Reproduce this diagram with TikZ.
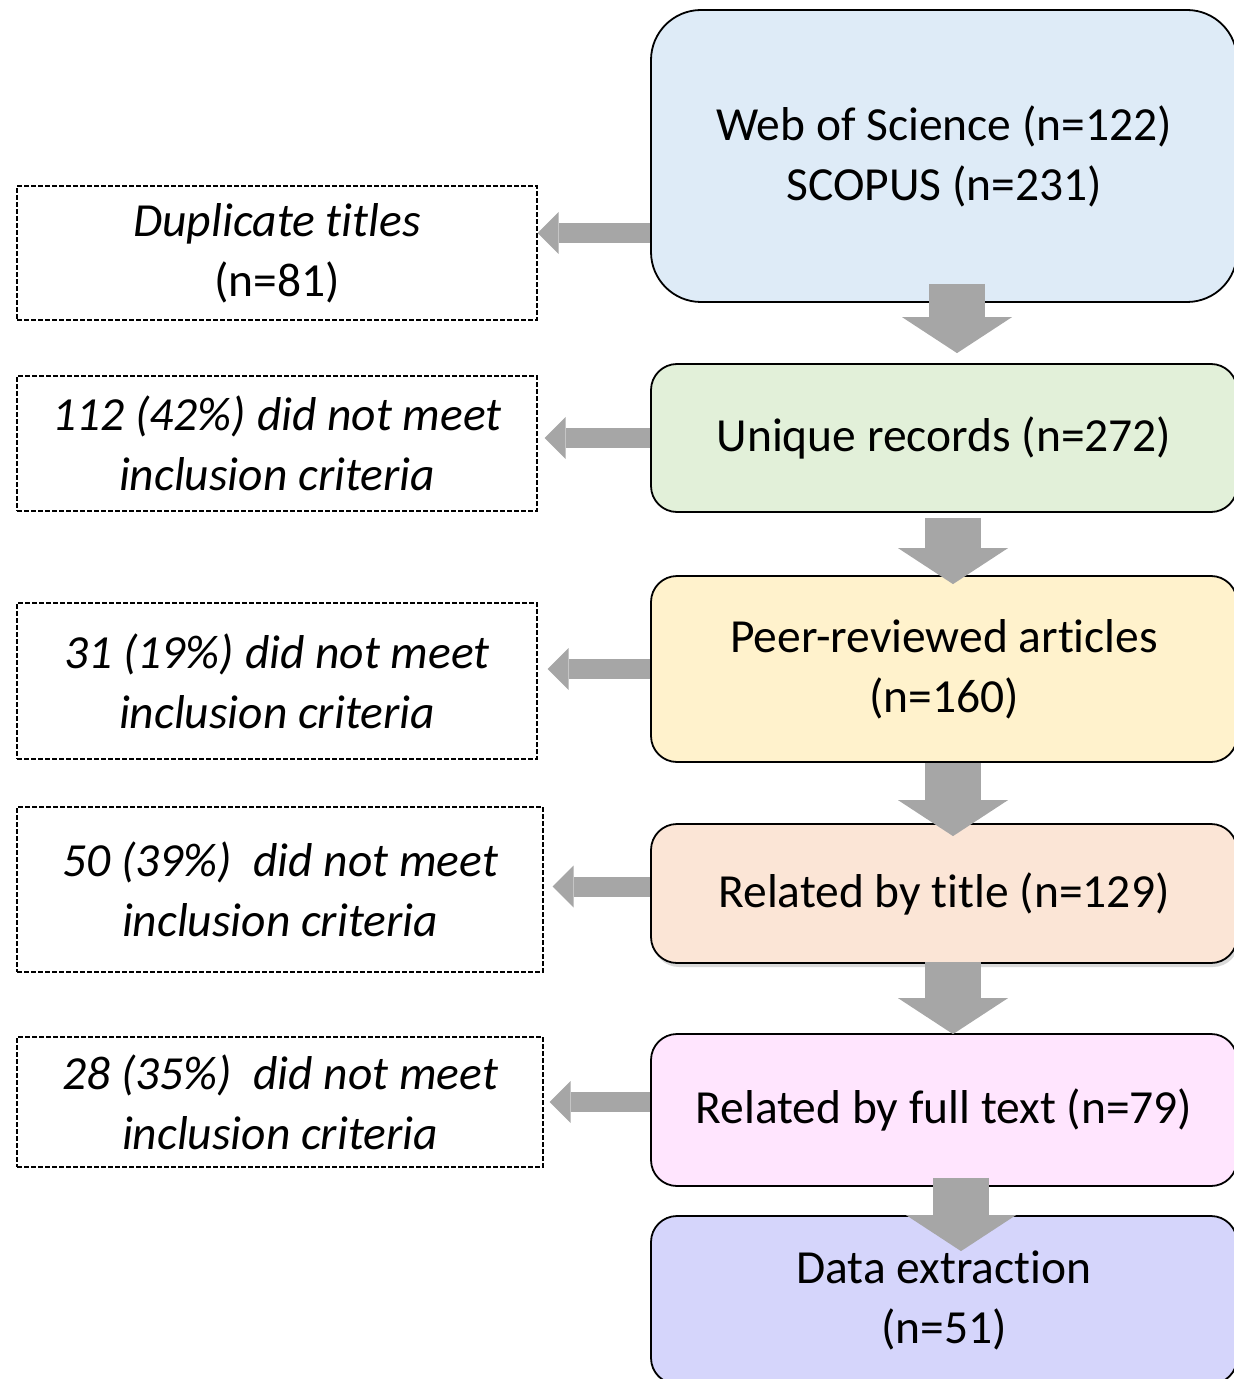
\documentclass[tikz,border=0pt]{standalone}
\usepackage{fontspec}
\setmainfont{Carlito}[Ligatures=CommonOff]
\usetikzlibrary{arrows.meta,calc,shadows}
\definecolor{cblue}{HTML}{DEEBF7}
\definecolor{cgreen}{HTML}{E2F0D9}
\definecolor{cyellow}{HTML}{FFF2CC}
\definecolor{cpeach}{HTML}{FBE5D6}
\definecolor{cpink}{HTML}{FFE5FE}
\definecolor{clav}{HTML}{D5D5FB}
\definecolor{arrowgray}{HTML}{A6A6A6}
\begin{document}
\begin{tikzpicture}[x=0.5pt,y=-0.5pt,
  every node/.style={font=\fontsize{23.75}{30}\selectfont, align=center, inner sep=0pt},
  mainbox/.style={draw=black, line width=0.9pt, rounded corners=13pt, minimum width=293pt},
  exclbox/.style={draw=black, line width=0.7pt, dash pattern=on 2.4pt off 1.1pt,
    font=\fontsize{23.75}{30}\selectfont\itshape},
  downarrow/.style={draw=arrowgray, line width=28pt,
    -{Triangle[length=18pt,width=55pt,line width=0pt]}},
  leftarrow/.style={draw=arrowgray, line width=10pt,
    -{Triangle[length=10.5pt,width=21pt,line width=0pt]}}
]
\useasboundingbox (0,0) rectangle (1234,1379);
\clip (0,0) rectangle (1234,1379);

% main column
\node[mainbox, fill=cblue, rounded corners=25pt, minimum height=146pt] (b1) at (944,156)
  {Web of Science (n=122)\\SCOPUS (n=231)};
\node[mainbox, fill=cgreen, minimum height=74pt] (b2) at (944,438)
  {Unique records (n=272)};
\node[mainbox, fill=cyellow, minimum height=93pt] (b3) at (944,669)
  {Peer-reviewed articles\\(n=160)};
\node[mainbox, fill=cpeach, minimum height=69.5pt,
  drop shadow={shadow xshift=1pt, shadow yshift=-2pt, fill=black, opacity=0.15}] (b4) at (944,893.5)
  {Related by title (n=129)};
\node[mainbox, fill=cpink, minimum height=76pt] (b5) at (944,1110)
  {Related by full text (n=79)};
\node[mainbox, fill=clav, minimum height=84pt] (b6) at (944,1300)
  {Data extraction\\(n=51)};

% exclusion boxes
\node[exclbox, minimum width=260pt, minimum height=67pt] (d1) at (277,253)
  {Duplicate titles\\\upshape(n=81)};
\node[exclbox, minimum width=260pt, minimum height=67.5pt] (d2) at (277,443.5)
  {112 (42\%) did not meet\\inclusion criteria};
\node[exclbox, minimum width=260pt, minimum height=78pt] (d3) at (277,681)
  {31 (19\%) did not meet\\inclusion criteria};
\node[exclbox, minimum width=263pt, minimum height=82.5pt] (d4) at (280,889.5)
  {50 (39\%)\ \ did not meet\\inclusion criteria};
\node[exclbox, minimum width=263pt, minimum height=65pt] (d5) at (280,1102)
  {28 (35\%)\ \ did not meet\\inclusion criteria};

% down arrows
\draw[downarrow] ($(b1.south)+(13,-19)$) -- ($(b2.north)+(13,-10)$);
\draw[downarrow] ($(b2.south)+(9,5)$) -- ($(b3.north)+(9,9)$);
\draw[downarrow] ($(b3.south)+(9,0)$) -- ($(b4.north)+(9,13)$);
\draw[downarrow] ($(b4.south)+(9,-2)$) -- ($(b5.north)+(9,1)$);
\draw[downarrow] ($(b5.south)+(17,-9)$) -- ($(b6.north)+(17,36)$);

% left arrows
\coordinate (l1) at ($(b1.west)+(0,77)$);
\draw[leftarrow] (l1) -- (d1.east |- l1);
\draw[leftarrow] (b2.west) -- ($(d2.east |- b2.west)+(7,0)$);
\draw[leftarrow] (b3.west) -- ($(d3.east |- b3.west)+(10,0)$);
\coordinate (l4) at ($(b4.west)+(0,-7)$);
\draw[leftarrow] (l4) -- ($(d4.east |- l4)+(9,0)$);
\coordinate (l5) at ($(b5.west)+(0,-8)$);
\draw[leftarrow] (l5) -- ($(d5.east |- l5)+(6,0)$);
\end{tikzpicture}
\end{document}
